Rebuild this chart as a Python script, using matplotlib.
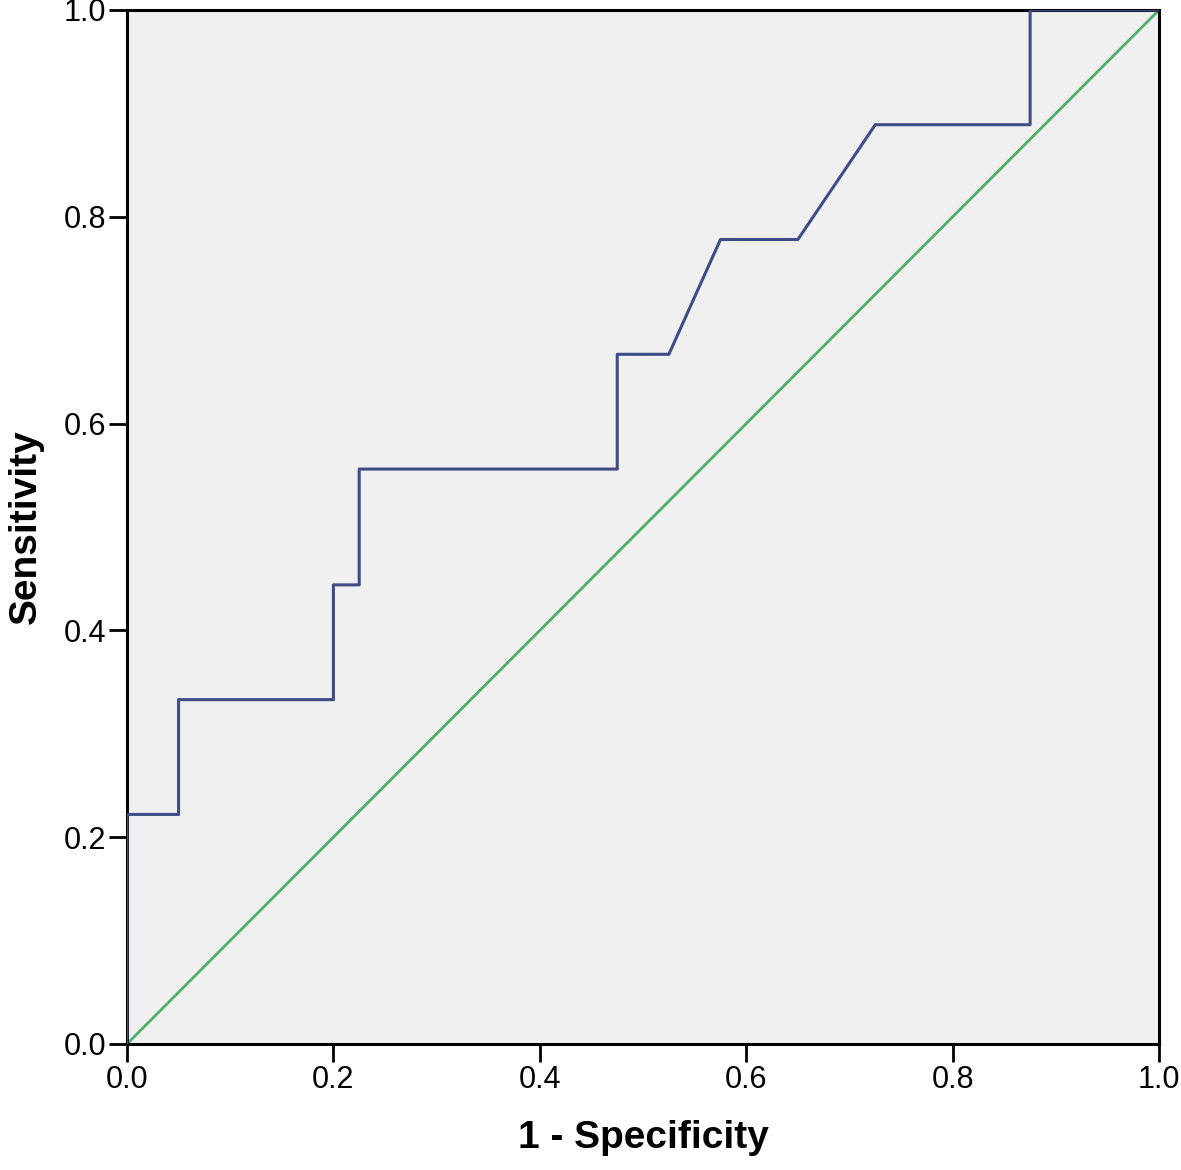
import matplotlib
matplotlib.use('Agg')
import matplotlib.pyplot as plt

plt.rcParams['font.family'] = ['Liberation Sans', 'DejaVu Sans']

# ROC 曲線的各點（1 - 特異度, 敏感度）
fpr = [0.0, 0.0, 0.05, 0.05, 0.2, 0.2, 0.225, 0.225, 0.475, 0.475,
       0.525, 0.575, 0.65, 0.725, 0.875, 0.875, 1.0]
tpr = [0.0, 0.222, 0.222, 0.333, 0.333, 0.444, 0.444, 0.556, 0.556, 0.667,
       0.667, 0.778, 0.778, 0.889, 0.889, 1.0, 1.0]

# 參考線
ref_x = [0.0, 1.0]
ref_y = [0.0, 1.0]

ticks = [0.0, 0.2, 0.4, 0.6, 0.8, 1.0]
tick_labels = ['0.0', '0.2', '0.4', '0.6', '0.8', '1.0']

fig = plt.figure(figsize=(11.81, 11.70), dpi=100)
ax = fig.add_axes([0.1075, 0.1077, 0.874, 0.8838])
ax.set_facecolor('#f0f0f0')

ax.plot(ref_x, ref_y, color='#4caf6a', linewidth=2, zorder=2)
ax.plot(fpr, tpr, color='#3f4c85', linewidth=2.2, zorder=3)

ax.set_xlim(0, 1)
ax.set_ylim(0, 1)
ax.set_xticks(ticks)
ax.set_xticklabels(tick_labels)
ax.set_yticks(ticks)
ax.set_yticklabels(tick_labels)
ax.tick_params(direction='out', length=13, width=2, labelsize=22, colors='black', pad=2)

for s in ax.spines.values():
    s.set_linewidth(2.2)
    s.set_color('black')

ax.set_xlabel('1 - Specificity', fontsize=28, fontweight='bold', labelpad=18)
ax.set_ylabel('Sensitivity', fontsize=28, fontweight='bold', labelpad=14)

fig.savefig('out.png', dpi=100)
